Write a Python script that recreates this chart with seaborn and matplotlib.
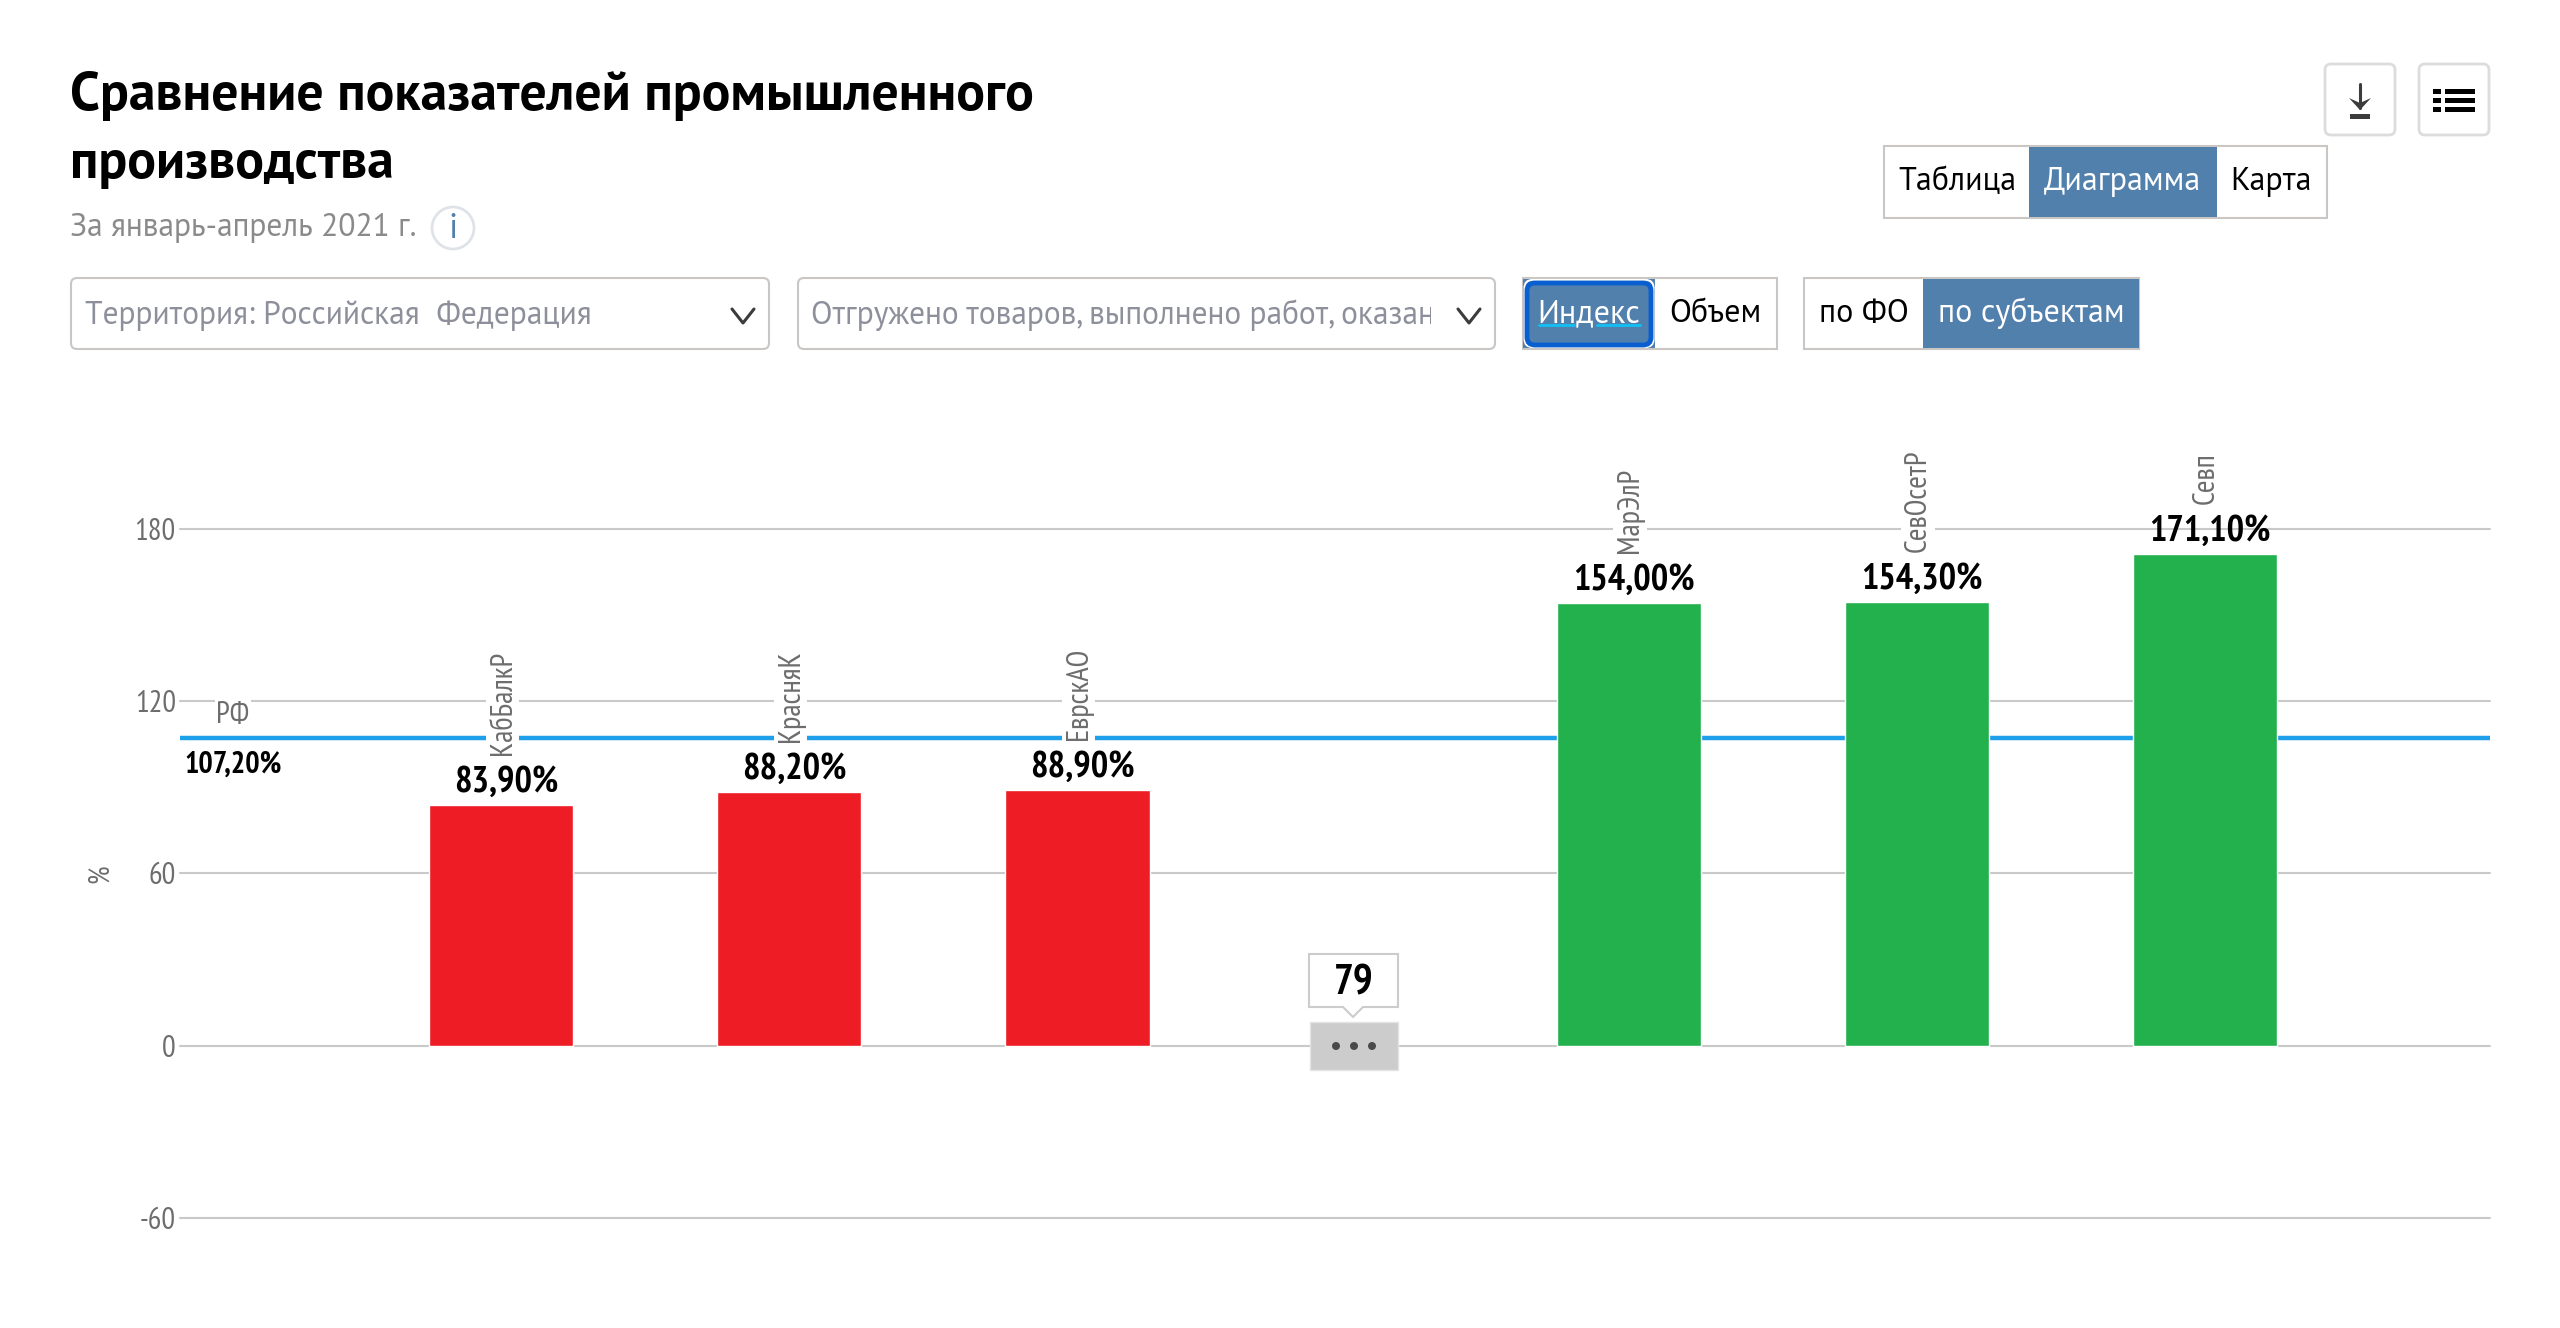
import matplotlib
matplotlib.use("Agg")
import matplotlib.pyplot as plt
from matplotlib.patches import Rectangle, FancyBboxPatch, Circle, Polygon
import numpy as np
import pandas as pd
import seaborn as sns

regions = ["КабБалкР", "КрасняК", "ЕврскАО", "МарЭлР", "СевОсетР", "Севп"]
values = [83.9, 88.2, 88.9, 154.0, 154.3, 171.1]
rf_value = 107.2
hidden_count = 79
y_ticks = [-60, 0, 60, 120, 180]

title_lines = ["Сравнение показателей промышленного", "производства"]
subtitle = "За январь-апрель 2021 г."

NARROW = ["PT Sans Narrow", "Noto Sans", "DejaVu Sans"]
SANS = ["PT Sans", "Noto Sans", "DejaVu Sans"]
W, H = 2560, 1328
GRID = "#c9c9c9"
BORDER = "#c9c6c3"
ACTIVE = "#5280ad"
TICK = "#6d6d6d"
PLACEHOLDER = "#8d8f9b"

sns.set_theme(style="white")
plt.rcParams["font.family"] = SANS
plt.rcParams["axes.unicode_minus"] = False

df = pd.DataFrame({"region": regions, "value": values})
# три младших и три старших субъекта, посередине разрыв
df["pos"] = np.arange(len(df)) + (np.arange(len(df)) >= 3) * 0.914
df["group"] = ["low" if v < rf_value else "high" for v in values]

fig = plt.figure(figsize=(W / 100, H / 100), dpi=100, facecolor="white")

# область графика в пикселях картинки
left, right, top, bottom = 180, 2490, 528.5, 1218
ax = fig.add_axes([left / W, 1 - bottom / H, (right - left) / W, (bottom - top) / H])
ax.patch.set_alpha(0)

sns.barplot(data=df, x="pos", y="value", hue="group", dodge=False, native_scale=True,
            width=0.5, palette={"low": "#ee1c25", "high": "#22b14c"}, legend=False,
            saturation=1, ax=ax, zorder=3)

ax.set_xlim(-1.116, 6.904)
ax.set_ylim(-60, 180)
ax.set_yticks(y_ticks)
ax.set_xticks([])
ax.set_xlabel("")
ax.set_ylabel("")
ax.grid(axis="y", color=GRID, lw=1.5, clip_on=False, zorder=1)
ax.set_axisbelow(True)
sns.despine(ax=ax, left=True, bottom=True, top=True, right=True)
ax.tick_params(axis="y", length=0, pad=3, labelcolor=TICK)
for lab in ax.get_yticklabels():
    lab.set_family(NARROW)
    lab.set_fontsize(22)
for line in ax.get_ygridlines():
    line.set_clip_on(False)

ax.axhline(rf_value, color="#1e9fea", lw=3.2, zorder=2)

for _, row in df.iterrows():
    ax.annotate(f"{row['value']:.2f}".replace(".", ",") + "%", (row["pos"], row["value"]),
                xytext=(3.5, 9.5), textcoords="offset points", ha="center", va="baseline",
                family=NARROW, fontsize=26.3, fontweight="bold", color="black",
                annotation_clip=False, zorder=5)
    ax.annotate(row["region"], (row["pos"], row["value"]),
                xytext=(0.8, 36), textcoords="offset points", ha="center", va="bottom",
                rotation=90, family=NARROW, fontsize=22, color=TICK, annotation_clip=False,
                bbox=dict(fc="white", ec="none", pad=2), zorder=4)

ax.annotate("РФ", (-1.116, rf_value), xytext=(38, 16.5), textcoords="offset points", ha="center",
            va="center", family=NARROW, fontsize=22, color=TICK, annotation_clip=False,
            bbox=dict(fc="white", ec="none", pad=1), zorder=4)
ax.annotate(f"{rf_value:.2f}".replace(".", ",") + "%", (-1.116, rf_value), xytext=(38, -19.5),
            textcoords="offset points", ha="center", va="center", family=NARROW, fontsize=21.8,
            fontweight="bold", color="black", annotation_clip=False, zorder=4)

# интерфейс вокруг графика, координаты в пикселях
ui = fig.add_axes([0, 0, 1, 1], zorder=5)
ui.set_xlim(0, W)
ui.set_ylim(H, 0)
ui.axis("off")
ui.patch.set_alpha(0)


def box(x0, y0, x1, y1, fc="white", ec=BORDER, lw=1.5, r=6):
    patch = FancyBboxPatch((x0, y0), x1 - x0, y1 - y0, boxstyle=f"round,pad=0,rounding_size={r}",
                           fc=fc, ec=ec, lw=lw)
    ui.add_patch(patch)
    return patch


def chevron(cx, cy):
    ui.plot([cx - 11, cx, cx + 11], [cy - 7, cy + 7, cy - 7], color="#3c3c3c", lw=2.2)


def toggle(x0, y0, x1, y1, cuts, labels, active, baseline):
    ui.add_patch(Rectangle((x0, y0), x1 - x0, y1 - y0, fc="white", ec=BORDER, lw=1.5))
    for i, (label, cx) in enumerate(labels):
        if i == active:
            ui.add_patch(Rectangle((cuts[i], y0 + 1), cuts[i + 1] - cuts[i], y1 - y0 - 2, fc=ACTIVE, ec="none"))
        ui.text(cx, baseline, label, ha="center", va="baseline", fontsize=23, family=SANS,
                color="white" if i == active else "black")


ui.text(70, 110, title_lines[0], fontsize=38.6, fontweight="bold", va="baseline", color="black")
ui.text(70, 178, title_lines[1], fontsize=38.6, fontweight="bold", va="baseline", color="black")
ui.text(70, 236, subtitle, fontsize=22.7, va="baseline", color="#8a8a8a")
ui.add_patch(Circle((453, 228), 21, fc="white", ec="#dfe3e8", lw=2))
ui.text(453, 229, "i", fontsize=25, ha="center", va="center", color=ACTIVE)

box(71, 278, 769, 349)
ui.text(85, 324, "Территория: Российская  Федерация", fontsize=22.7, va="baseline", color=PLACEHOLDER)
chevron(743, 316)

box(798, 278, 1495, 349)
clip = Rectangle((798, 278), 633, 71, transform=ui.transData)
long_text = ui.text(811, 324, "Отгружено товаров, выполнено работ, оказанн", fontsize=22.7,
                    va="baseline", color=PLACEHOLDER)
long_text.set_clip_path(clip)
long_text.set_clip_on(True)
chevron(1469, 316)

toggle(1884, 146, 2327, 218, [1884, 2029, 2217, 2327],
       [("Таблица", 1957), ("Диаграмма", 2122), ("Карта", 2271)], 1, 190)
toggle(1523, 278, 1777, 349, [1523, 1655, 1777], [("Индекс", 1589), ("Объем", 1715)], 0, 322)
toggle(1804, 278, 2139, 349, [1804, 1923, 2139], [("по ФО", 1864), ("по субъектам", 2031)], 1, 322)

# рамка фокуса на "Индекс"
box(1524.5, 280, 1653.5, 347, fc="none", ec="white", lw=1.5, r=8)
box(1527, 283, 1651, 345, fc="none", ec="#0a5fd0", lw=3.5, r=8)
ui.plot([1539, 1574], [325, 325], color="#10c0f5", lw=2)
ui.plot([1597, 1640], [325, 325], color="#10c0f5", lw=2)

# кнопки скачать и список
box(2325, 64, 2395, 135, ec="#dcdcdc", lw=2)
box(2419, 64, 2489, 135, ec="#dcdcdc", lw=2)
ui.plot([2360, 2360], [84, 108], color="#3c3c3c", lw=2.2)
ui.add_patch(Polygon([[2349, 98], [2360, 110], [2371, 98], [2360, 103]], fc="#3c3c3c", ec="none"))
ui.add_patch(Rectangle((2350, 114), 20, 4.5, fc="#3c3c3c", ec="none"))
for y in [91, 100, 109]:
    ui.add_patch(Rectangle((2433, y - 2.5), 8, 5, fc="black", ec="none"))
    ui.add_patch(Rectangle((2445, y - 2.5), 30, 5, fc="black", ec="none"))

ui.text(100, 874, "%", rotation=90, family=NARROW, fontsize=21, ha="center", va="center", color=TICK)

# скрытые субъекты: плашка с многоточием и счётчик
ui.add_patch(Rectangle((1310, 1022), 88, 48, fc="#cccccc", ec="#e4e4e4", lw=1))
for x in [1336, 1354, 1372]:
    ui.add_patch(Circle((x, 1046), 4, fc="#4a4a4a", ec="none"))
ui.add_patch(Polygon([[1309, 954], [1398, 954], [1398, 1007], [1363, 1007], [1353, 1017], [1343, 1007], [1309, 1007]],
                     closed=True, fc="white", ec="#cccccc", lw=1.5))
ui.text(1353.5, 984, str(hidden_count), family=NARROW, fontsize=30, fontweight="bold", ha="center",
        va="center", color="black")

fig.savefig("out.png", dpi=100, facecolor="white")
